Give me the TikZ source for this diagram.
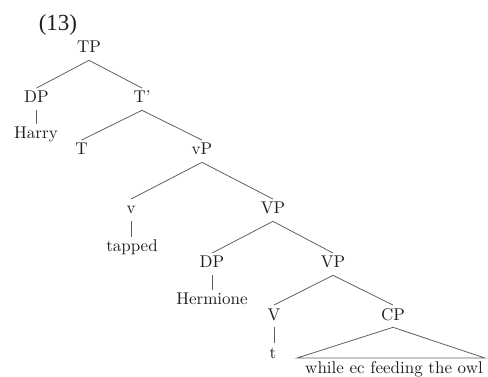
\documentclass[tikz,border=0pt]{standalone}
\usepackage{fontspec}
\newfontfamily\exfont{Liberation Serif}
\usetikzlibrary{calc}
\begin{document}
\begin{tikzpicture}[x=1pt,y=-1pt,
  lab/.style={font=\fontsize{10}{12}\selectfont, scale=1.7, anchor=base,
    inner sep=1.76pt, text height=6.83pt, text depth=2.35pt, text=black!88},
  br/.style={draw=black!62, line width=0.8pt}]
\fill[white] (0,0) rectangle (488,377);
\useasboundingbox (0,0) rectangle (488,377);

% example number
\node[anchor=base, inner sep=0pt, font=\exfont\fontsize{23}{26}\selectfont, text=black!88]
  (exnum) at (58,31) {(13)};

% tree labels
\node[lab] (tp)     at (89,53)   {TP};
\node[lab] (dpa)    at (36.5,103) {DP};
\node[lab] (tbar)   at (142,103) {T'};
\node[lab] (harry)  at (36,139)  {Harry};
\node[lab] (thead)  at (81.5,155) {T};
\node[lab] (littlevp) at (202,155) {vP};
\node[lab] (littlev)  at (131,214) {v};
\node[lab] (vpa)    at (273,214) {VP};
\node[lab] (tapped) at (132,252) {tapped};
\node[lab] (dpb)    at (212,268) {DP};
\node[lab] (vpb)    at (333,268) {VP};
\node[lab] (herm)   at (212,305) {Hermione};
\node[lab] (vhead)  at (274,320) {V};
\node[lab] (cp)     at (393,320) {CP};
\node[lab] (trace)  at (273,358) {t};
\node[lab] (clause) at (394,373.5) {while ec feeding the owl};

% branches
\draw[br] (tp.south) -- (dpa.north);
\draw[br] (tp.south) -- (tbar.north);
\draw[br] (dpa.south) -- (dpa.south |- harry.north);
\draw[br] (tbar.south) -- (thead.north);
\draw[br] (tbar.south) -- (littlevp.north);
\draw[br] (littlevp.south) -- (littlev.north);
\draw[br] (littlevp.south) -- (vpa.north);
\draw[br] (littlev.south) -- (littlev.south |- tapped.north);
\draw[br] (vpa.south) -- (dpb.north);
\draw[br] (vpa.south) -- (vpb.north);
\draw[br] (dpb.south) -- (dpb.south |- herm.north);
\draw[br] (vpb.south) -- (vhead.north);
\draw[br] (vpb.south) -- (cp.north);
\draw[br] (vhead.south) -- (vhead.south |- trace.north);

% roof over the CP
\coordinate (roofl) at ($(clause.north west)+(-5,-0.5)$);
\coordinate (roofr) at ($(clause.north east)+(-1,-0.5)$);
\draw[br] (cp.south) -- (roofl) -- (roofr) -- cycle;
\end{tikzpicture}
\end{document}
